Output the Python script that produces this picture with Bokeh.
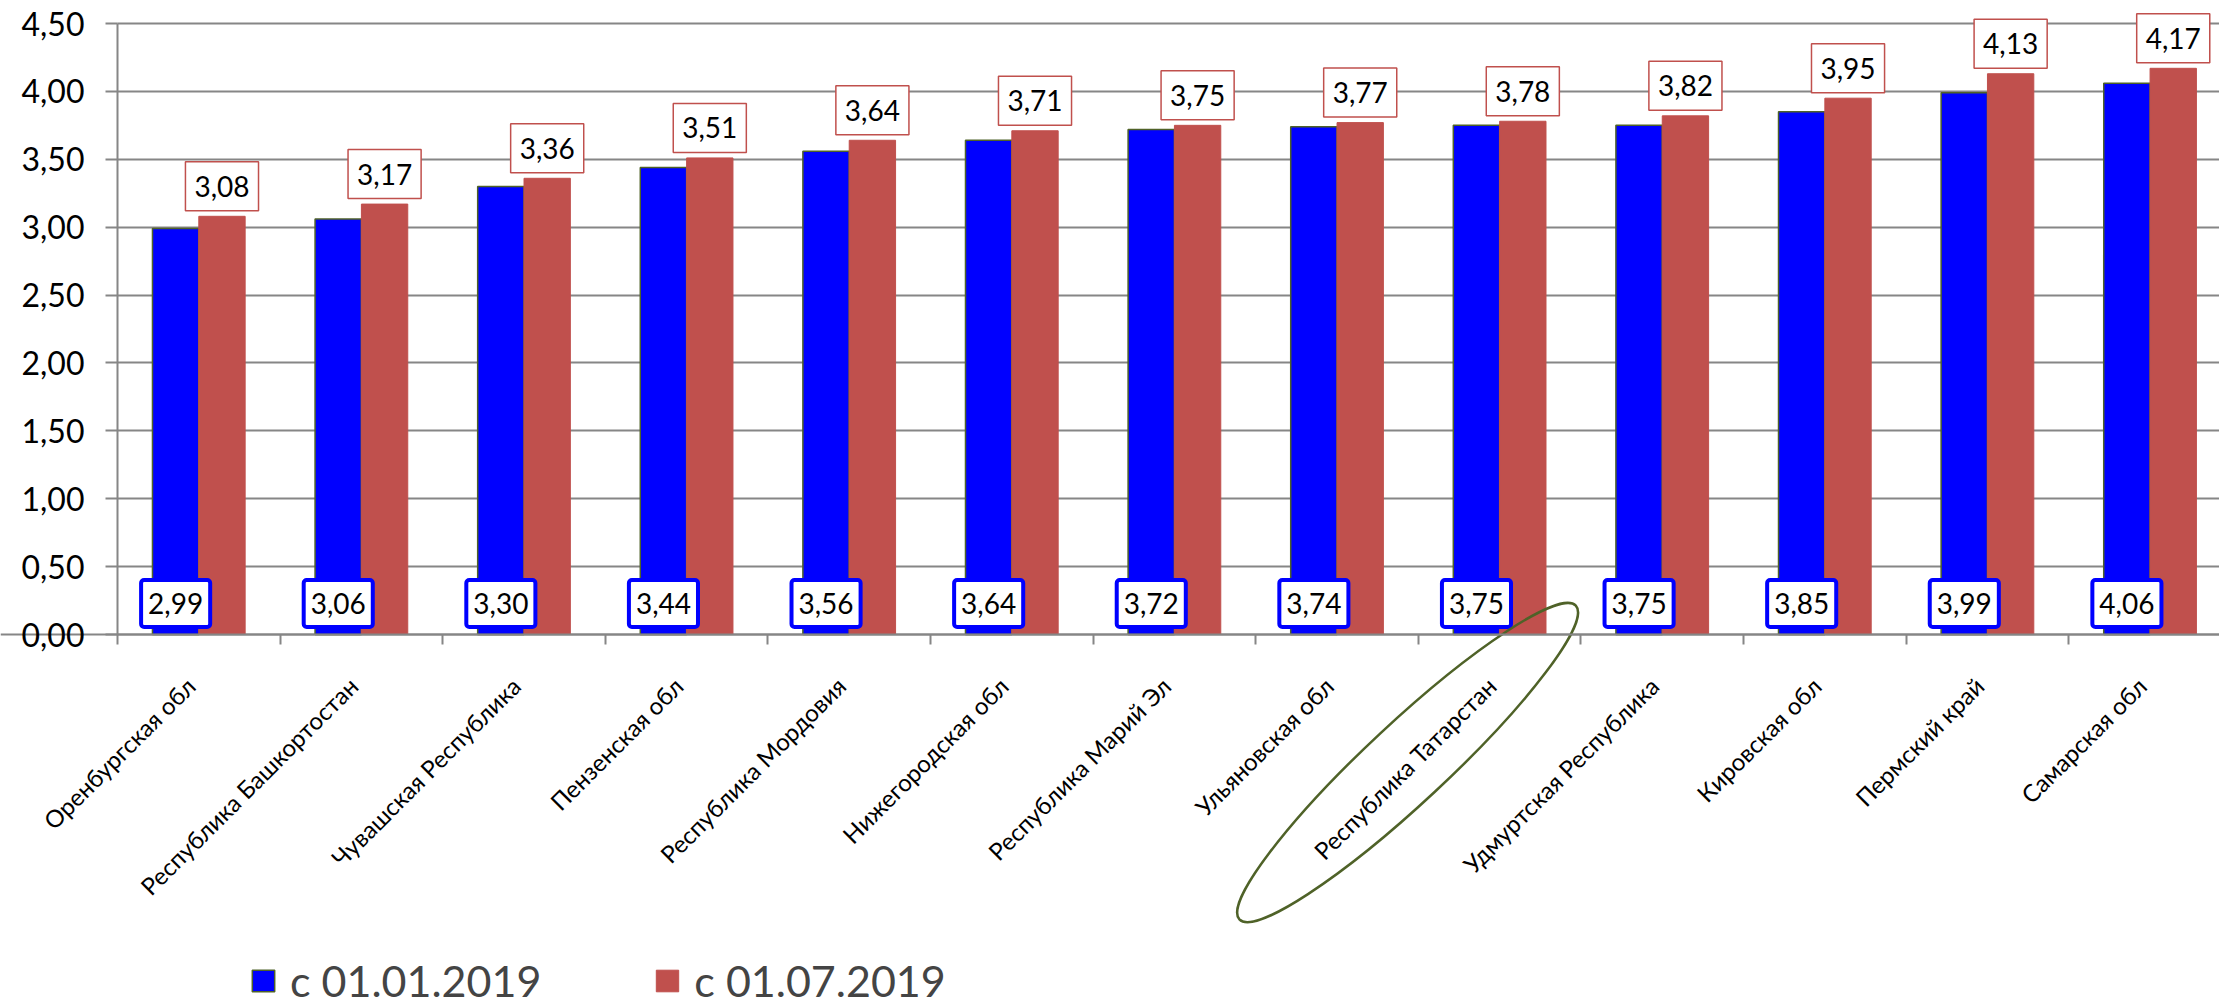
import math
from bokeh.plotting import figure
from bokeh.models import (Range1d, LinearAxis, FixedTicker, Grid, ColumnDataSource,
                          Legend, LegendItem)
from bokeh.transform import dodge
from bokeh.core.properties import value
from bokeh.embed import file_html
from bokeh.resources import INLINE

# ---------------- data ----------------
regions = ["Оренбургская обл", "Республика Башкортостан", "Чувашская Республика",
           "Пензенская обл", "Республика Мордовия", "Нижегородская обл",
           "Республика Марий Эл", "Ульяновская обл", "Республика Татарстан",
           "Удмуртская Республика", "Кировская обл", "Пермский край", "Самарская обл"]
jan_2019 = [2.99, 3.06, 3.30, 3.44, 3.56, 3.64, 3.72, 3.74, 3.75, 3.75, 3.85, 3.99, 4.06]
jul_2019 = [3.08, 3.17, 3.36, 3.51, 3.64, 3.71, 3.75, 3.77, 3.78, 3.82, 3.95, 4.13, 4.17]
series_names = ["с 01.01.2019", "с 01.07.2019"]
y_ticks = [0.0, 0.5, 1.0, 1.5, 2.0, 2.5, 3.0, 3.5, 4.0, 4.5]
y_tick_labels = ["0,00", "0,50", "1,00", "1,50", "2,00", "2,50", "3,00", "3,50", "4,00", "4,50"]
highlight = "Республика Татарстан"

FONT = "Lato"
BLUE = "#0000FF"
RED = "#C0504D"
OLIVE = "#4F6228"
GRAY = "#868686"

def fmt(v):
    return f"{v:.2f}".replace(".", ",")

n = len(regions)
centers = [i + 0.5 for i in range(n)]
label_ticks = [c - 0.05 for c in centers]
src = ColumnDataSource(dict(
    x=centers, jan=jan_2019, jul=jul_2019,
    jan_lbl=[fmt(v) for v in jan_2019], jul_lbl=[fmt(v) for v in jul_2019],
    zero=[0.0] * n,
))

X_END = 12.927
p = figure(frame_width=2219, frame_height=1006, output_backend="svg", toolbar_location=None,
           x_range=Range1d(-0.71956, X_END), y_range=Range1d(-2.7397, 4.6694),
           x_axis_location=None, y_axis_location=None,
           min_border_left=0, min_border_right=0, min_border_top=0, min_border_bottom=0)
p.outline_line_color = None
p.background_fill_color = "white"
p.border_fill_color = "white"
for g in p.grid:
    g.visible = False

# horizontal grid, only over the value range and the plotting area
p.add_layout(Grid(dimension=1, ticker=FixedTicker(ticks=y_ticks), bounds=(0, 4.5),
                  cross_bounds=(0, X_END), grid_line_color=GRAY, grid_line_width=2))

bw = 0.285
r_jan = p.vbar(x=dodge("x", -bw / 2, range=p.x_range), top="jan", width=bw, source=src,
               fill_color=BLUE, line_color=OLIVE, line_width=1.5)
r_jul = p.vbar(x=dodge("x", bw / 2, range=p.x_range), top="jul", width=bw, source=src,
               fill_color=RED, line_color=RED, line_width=1)

# data labels
p.text(x=dodge("x", bw / 2, range=p.x_range), y="jul", text="jul_lbl", source=src,
       text_font=value(FONT), text_font_size="28px", text_color="black",
       text_align="center", text_baseline="middle", y_offset=-30,
       background_fill_color="white", border_line_color=RED, border_line_width=1.5,
       padding=dict(left=9, right=9, top=14, bottom=14))
p.text(x=dodge("x", -bw / 2, range=p.x_range), y="zero", text="jan_lbl", source=src,
       text_font=value(FONT), text_font_size="28px", text_color="black",
       text_align="center", text_baseline="middle", y_offset=-31,
       background_fill_color="white", border_line_color=BLUE, border_line_width=4,
       border_radius=3, padding=dict(left=7, right=7, top=13, bottom=13))

# highlight ellipse around the Tatarstan label
hi = regions.index(highlight)
esrc = ColumnDataSource(dict(x=[centers[hi] - 0.566], y=[-0.943]))
p.ellipse(x="x", y="y", width=460, height=80, width_units="screen", height_units="screen",
          angle=math.radians(43), source=esrc, fill_color=None, line_color=OLIVE,
          line_width=2.5)

# axes (fixed at the value/category origin)
tick_axis = LinearAxis(ticker=FixedTicker(ticks=list(range(n + 1))),
                       fixed_location=0,
                       major_label_overrides={i: "" for i in range(n + 1)},
                       major_label_text_font_size="1px", major_label_standoff=0,
                       major_tick_out=10, major_tick_in=0, minor_tick_line_color=None,
                       axis_line_color=GRAY, axis_line_width=2,
                       major_tick_line_color=GRAY, major_tick_line_width=2)
p.add_layout(tick_axis, "below")

label_axis = LinearAxis(ticker=FixedTicker(ticks=label_ticks),
                        fixed_location=0,
                        major_label_overrides={c: r for c, r in zip(label_ticks, regions)},
                        major_label_orientation=math.pi / 4,
                        major_label_text_font=FONT, major_label_text_font_size="24px",
                        major_label_text_color="black", major_label_standoff=47,
                        axis_line_color=None, major_tick_line_color=None,
                        minor_tick_line_color=None, major_tick_out=0, major_tick_in=0)
p.add_layout(label_axis, "below")

yaxis = LinearAxis(ticker=FixedTicker(ticks=y_ticks),
                   fixed_location=0,
                   major_label_overrides=dict(zip(y_ticks, y_tick_labels)),
                   bounds=(0, 4.5),
                   major_label_text_font=FONT, major_label_text_font_size="32px",
                   major_label_text_color="black", major_label_standoff=21,
                   axis_line_color=GRAY, axis_line_width=2,
                   major_tick_line_color=GRAY, major_tick_line_width=2,
                   major_tick_out=12, major_tick_in=0, minor_tick_line_color=None)
p.add_layout(yaxis, "left")

legend = Legend(items=[LegendItem(label=series_names[0], renderers=[r_jan]),
                       LegendItem(label=series_names[1], renderers=[r_jul])],
                orientation="horizontal", location=(249, 0),
                glyph_width=28, glyph_height=27, label_height=27,
                label_text_font=FONT, label_text_font_size="43px",
                label_text_line_height=1.0, label_text_baseline="middle",
                label_standoff=13, spacing=112, padding=0, margin=0,
                border_line_color=None, background_fill_alpha=0)
p.add_layout(legend, "center")

open("out.html", "w").write(file_html(p, INLINE))
